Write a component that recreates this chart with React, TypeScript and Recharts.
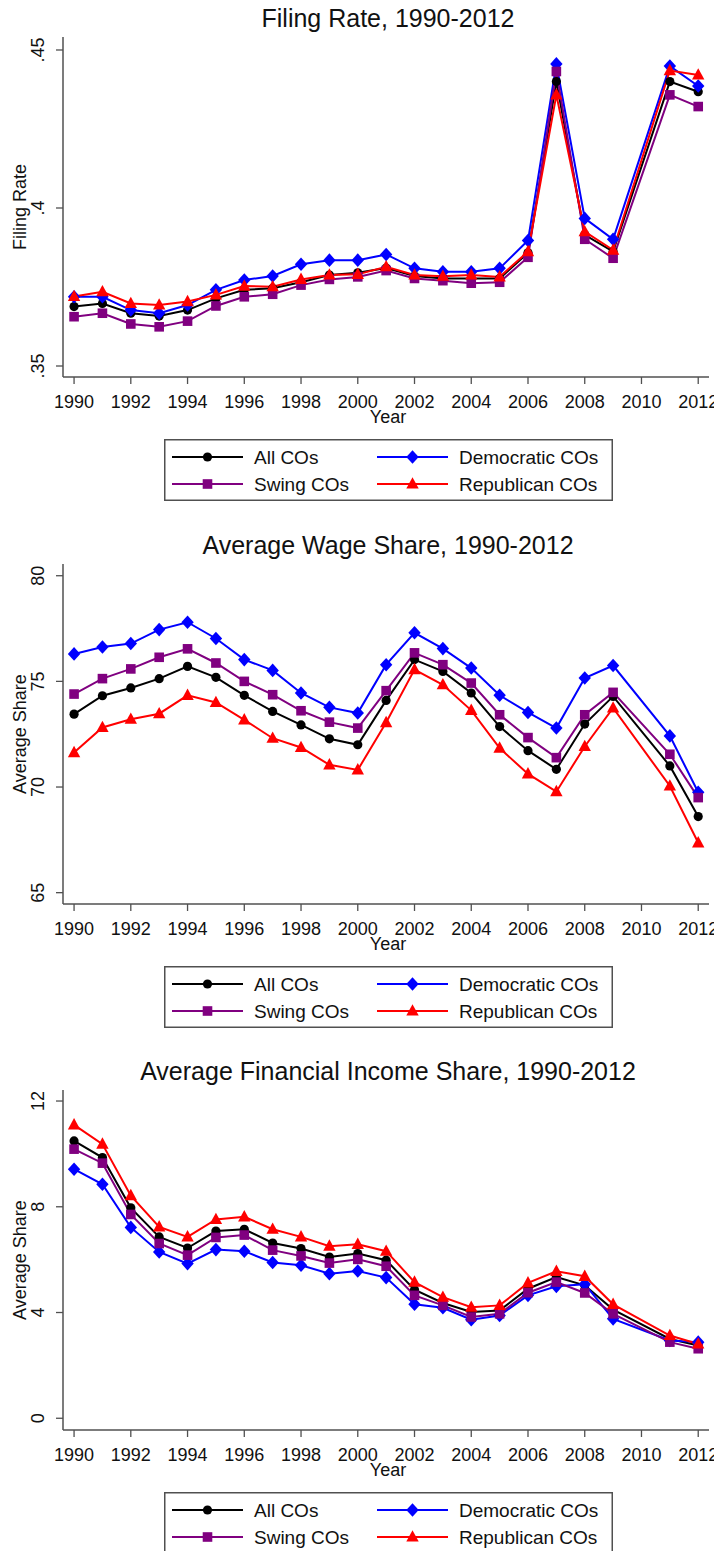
import React from "react";
import { LineChart, Line, XAxis, YAxis } from "recharts";

const YEARS = [1990, 1991, 1992, 1993, 1994, 1995, 1996, 1997, 1998, 1999, 2000, 2001, 2002, 2003, 2004, 2005, 2006, 2007, 2008, 2009, 2011, 2012];
const X_TICKS = [1990, 1992, 1994, 1996, 1998, 2000, 2002, 2004, 2006, 2008, 2010, 2012];

// Filing rate
const filingAll = [0.3688, 0.3698, 0.3667, 0.3658, 0.3677, 0.3714, 0.3741, 0.3746, 0.3765, 0.3788, 0.3795, 0.381, 0.3785, 0.3777, 0.3777, 0.3777, 0.3858, 0.440, 0.3915, 0.3862, 0.440, 0.4368];
const filingDem = [0.3719, 0.3719, 0.3677, 0.3667, 0.3693, 0.3741, 0.3772, 0.3785, 0.3822, 0.3835, 0.3835, 0.3853, 0.3809, 0.3798, 0.3798, 0.3809, 0.3897, 0.4456, 0.3967, 0.3901, 0.4449, 0.4386];
const filingSwing = [0.3656, 0.3667, 0.3633, 0.3624, 0.3642, 0.369, 0.3719, 0.3727, 0.3756, 0.3774, 0.3782, 0.3802, 0.3777, 0.377, 0.3762, 0.3765, 0.3844, 0.4432, 0.3901, 0.3841, 0.4358, 0.4321];
const filingRep = [0.372, 0.3735, 0.3698, 0.3693, 0.3704, 0.3725, 0.3753, 0.3751, 0.3774, 0.3788, 0.379, 0.3814, 0.3788, 0.3784, 0.3788, 0.3782, 0.3862, 0.4358, 0.3925, 0.3867, 0.4435, 0.4421];
const filingTicks = [0.35, 0.4, 0.45];
const filingTickLabels = [".35", ".4", ".45"];

// Average wage share
const wageAll = [73.45, 74.32, 74.69, 75.13, 75.71, 75.19, 74.34, 73.58, 72.94, 72.28, 72.0, 74.1, 76.03, 75.47, 74.45, 72.86, 71.72, 70.84, 72.98, 74.29, 71.0, 68.6];
const wageDem = [76.3, 76.63, 76.79, 77.45, 77.8, 77.03, 76.03, 75.52, 74.45, 73.77, 73.5, 75.79, 77.3, 76.55, 75.63, 74.34, 73.53, 72.79, 75.16, 75.75, 72.42, 69.75];
const wageSwing = [74.4, 75.13, 75.59, 76.14, 76.54, 75.87, 75.0, 74.37, 73.61, 73.07, 72.79, 74.56, 76.35, 75.79, 74.92, 73.42, 72.34, 71.39, 73.42, 74.48, 71.55, 69.5];
const wageRep = [71.63, 72.82, 73.21, 73.47, 74.34, 74.0, 73.18, 72.31, 71.87, 71.05, 70.81, 73.05, 75.56, 74.84, 73.63, 71.84, 70.62, 69.78, 71.92, 73.74, 70.05, 67.36];
const wageTicks = [65, 70, 75, 80];
const wageTickLabels = ["65", "70", "75", "80"];

// Average financial income share
const finAll = [10.49, 9.86, 7.96, 6.86, 6.44, 7.08, 7.15, 6.63, 6.42, 6.1, 6.23, 5.98, 4.86, 4.36, 4.02, 4.08, 4.9, 5.34, 5.03, 4.11, 3.0, 2.75];
const finDem = [9.42, 8.85, 7.22, 6.29, 5.85, 6.38, 6.32, 5.89, 5.79, 5.47, 5.57, 5.32, 4.31, 4.18, 3.73, 3.89, 4.65, 4.99, 5.07, 3.76, 2.94, 2.88];
const finSwing = [10.18, 9.65, 7.71, 6.61, 6.17, 6.84, 6.93, 6.36, 6.14, 5.87, 6.01, 5.75, 4.65, 4.27, 3.83, 3.95, 4.75, 5.15, 4.74, 3.95, 2.88, 2.63];
const finRep = [11.1, 10.37, 8.42, 7.24, 6.86, 7.52, 7.62, 7.15, 6.86, 6.51, 6.58, 6.32, 5.15, 4.58, 4.2, 4.27, 5.12, 5.56, 5.37, 4.31, 3.13, 2.81];
const finTicks = [0, 4, 8, 12];
const finTickLabels = ["0", "4", "8", "12"];

const SERIES_NAMES = ["All COs", "Democratic COs", "Swing COs", "Republican COs"];

const FONT = "'Liberation Sans', Arial, Helvetica, sans-serif";
const FRAME = "#505050";
const BLACK = "#000000";
const BLUE = "#0000ff";
const PURPLE = "#800080";
const RED = "#ff0000";

const X_DOMAIN: [number, number] = [1989.61, 2012.38];

function Circle({ cx, cy }: any) {
  return <circle cx={cx} cy={cy} r={4.6} fill={BLACK} />;
}
function Diamond({ cx, cy }: any) {
  return <polygon points={`${cx},${cy - 6.8} ${cx + 6.2},${cy} ${cx},${cy + 6.8} ${cx - 6.2},${cy}`} fill={BLUE} />;
}
function Square({ cx, cy }: any) {
  return <rect x={cx - 4.8} y={cy - 4.8} width={9.6} height={9.6} fill={PURPLE} />;
}
function Triangle({ cx, cy }: any) {
  return <polygon points={`${cx},${cy - 6.8} ${cx + 6.2},${cy + 4.6} ${cx - 6.2},${cy + 4.6}`} fill={RED} />;
}

const mk = (Shape: any) => (p: any) => {
  if (p.cx == null || p.cy == null) return <g key={`e-${p.index}`} />;
  return <Shape key={`d-${p.index}`} cx={p.cx} cy={p.cy} />;
};

function XTick(p: any) {
  return (
    <text x={p.x} y={p.y} dy={24} textAnchor="middle" fontSize={18} fill="#111" fontFamily={FONT}>
      {p.payload.value}
    </text>
  );
}

function makeYTick(labels: string[], ticks: number[]) {
  return (p: any) => {
    const i = ticks.findIndex((t) => Math.abs(t - p.payload.value) < 1e-9);
    const tx = p.x - 11.5;
    return (
      <text x={tx} y={p.y} transform={`rotate(-90, ${tx}, ${p.y})`} textAnchor="middle" fontSize={18} fill="#111" fontFamily={FONT}>
        {i >= 0 ? labels[i] : String(p.payload.value)}
      </text>
    );
  };
}

function LegendBox() {
  const rows = [
    { y: 18, items: [{ name: SERIES_NAMES[0], color: BLACK, S: Circle }, { name: SERIES_NAMES[1], color: BLUE, S: Diamond }] },
    { y: 45, items: [{ name: SERIES_NAMES[2], color: PURPLE, S: Square }, { name: SERIES_NAMES[3], color: RED, S: Triangle }] },
  ];
  const cols = [8, 213];
  return (
    <svg width={449} height={62} style={{ display: "block" }}>
      <rect x={0.75} y={0.75} width={447.5} height={60.5} fill="#fff" stroke={FRAME} strokeWidth={1.5} />
      {rows.map((r, ri) =>
        r.items.map((it, ci) => {
          const x0 = cols[ci];
          return (
            <g key={`${ri}-${ci}`}>
              <line x1={x0} y1={r.y} x2={x0 + 71} y2={r.y} stroke={it.color} strokeWidth={2} />
              <it.S cx={x0 + 35.5} cy={r.y} />
              <text x={x0 + 82} y={r.y + 6.8} fontSize={19} fill="#111" fontFamily={FONT}>
                {it.name}
              </text>
            </g>
          );
        })
      )}
    </svg>
  );
}

type PanelProps = {
  top: number;
  title: string;
  yLabel: string;
  yDomain: [number, number];
  yTicks: number[];
  yTickLabels: string[];
  all: number[];
  dem: number[];
  swing: number[];
  rep: number[];
};

function Panel({ top, title, yLabel, yDomain, yTicks, yTickLabels, all, dem, swing, rep }: PanelProps) {
  const data = YEARS.map((year, i) => ({ year, all: all[i], dem: dem[i], swing: swing[i], rep: rep[i] }));
  const YTick = makeYTick(yTickLabels, yTicks);
  return (
    <div style={{ position: "absolute", top, left: 0, width: 714, height: 526 }}>
      <div
        style={{
          position: "absolute",
          top: -3,
          left: 57,
          width: 646,
          textAlign: "center",
          fontFamily: FONT,
          fontSize: 25,
          lineHeight: "26px",
          color: "#111",
          whiteSpace: "nowrap",
        }}
      >
        {title}
      </div>
      <div style={{ position: "absolute", top: 0, left: 0 }}>
        <LineChart width={714} height={420} data={data} margin={{ top: 29, right: 13, bottom: 0, left: 0 }}>
          <XAxis
            dataKey="year"
            type="number"
            domain={X_DOMAIN}
            ticks={X_TICKS}
            interval={0}
            allowDataOverflow
            height={51}
            tickSize={7}
            tickMargin={0}
            tick={<XTick />}
            tickLine={{ stroke: FRAME, strokeWidth: 1.3 }}
            axisLine={{ stroke: FRAME, strokeWidth: 1.5 }}
            label={(lp: any) => {
              const vb = lp.viewBox || {};
              return (
                <text x={vb.x + vb.width / 2 + 2} y={vb.y + 46} textAnchor="middle" fontSize={18} fill="#111" fontFamily={FONT}>
                  Year
                </text>
              );
            }}
          />
          <XAxis
            xAxisId="top"
            orientation="top"
            dataKey="year"
            type="number"
            domain={X_DOMAIN}
            allowDataOverflow
            height={0}
            tick={false}
            tickLine={false}
            axisLine={{ stroke: FRAME, strokeWidth: 1.5 }}
          />
          <YAxis
            type="number"
            domain={yDomain}
            ticks={yTicks}
            interval={0}
            allowDataOverflow
            width={55}
            tickSize={7}
            tickMargin={0}
            tick={<YTick />}
            tickLine={{ stroke: FRAME, strokeWidth: 1.3 }}
            axisLine={{ stroke: FRAME, strokeWidth: 1.5 }}
            label={(lp: any) => {
              const vb = lp.viewBox || {};
              const cy = vb.y + vb.height / 2;
              const cx = 17.5;
              return (
                <text x={cx} y={cy} transform={`rotate(-90, ${cx}, ${cy})`} textAnchor="middle" fontSize={18} fill="#111" fontFamily={FONT}>
                  {yLabel}
                </text>
              );
            }}
          />
          <YAxis
            yAxisId="right"
            orientation="right"
            type="number"
            domain={yDomain}
            allowDataOverflow
            width={0}
            tick={false}
            tickLine={false}
            axisLine={{ stroke: FRAME, strokeWidth: 1.5 }}
          />
          <Line dataKey="all" name={SERIES_NAMES[0]} stroke={BLACK} strokeWidth={2} dot={mk(Circle)} activeDot={false} isAnimationActive={false} />
          <Line dataKey="dem" name={SERIES_NAMES[1]} stroke={BLUE} strokeWidth={2} dot={mk(Diamond)} activeDot={false} isAnimationActive={false} />
          <Line dataKey="swing" name={SERIES_NAMES[2]} stroke={PURPLE} strokeWidth={2} dot={mk(Square)} activeDot={false} isAnimationActive={false} />
          <Line dataKey="rep" name={SERIES_NAMES[3]} stroke={RED} strokeWidth={2} dot={mk(Triangle)} activeDot={false} isAnimationActive={false} />
        </LineChart>
      </div>
      <div style={{ position: "absolute", top: 431, left: 156 }}>
        <LegendBox />
      </div>
    </div>
  );
}

export default function App() {
  return (
    <div style={{ position: "relative", width: 714, height: 1543, background: "#fff" }}>
      <Panel
        top={0}
        title="Filing Rate, 1990-2012"
        yLabel="Filing Rate"
        yDomain={[0.34652, 0.45411]}
        yTicks={filingTicks}
        yTickLabels={filingTickLabels}
        all={filingAll}
        dem={filingDem}
        swing={filingSwing}
        rep={filingRep}
      />
      <Panel
        top={527}
        title="Average Wage Share, 1990-2012"
        yLabel="Average Share"
        yDomain={[64.464, 80.555]}
        yTicks={wageTicks}
        yTickLabels={wageTickLabels}
        all={wageAll}
        dem={wageDem}
        swing={wageSwing}
        rep={wageRep}
      />
      <Panel
        top={1053}
        title="Average Financial Income Share, 1990-2012"
        yLabel="Average Share"
        yDomain={[-0.444, 12.417]}
        yTicks={finTicks}
        yTickLabels={finTickLabels}
        all={finAll}
        dem={finDem}
        swing={finSwing}
        rep={finRep}
      />
    </div>
  );
}
